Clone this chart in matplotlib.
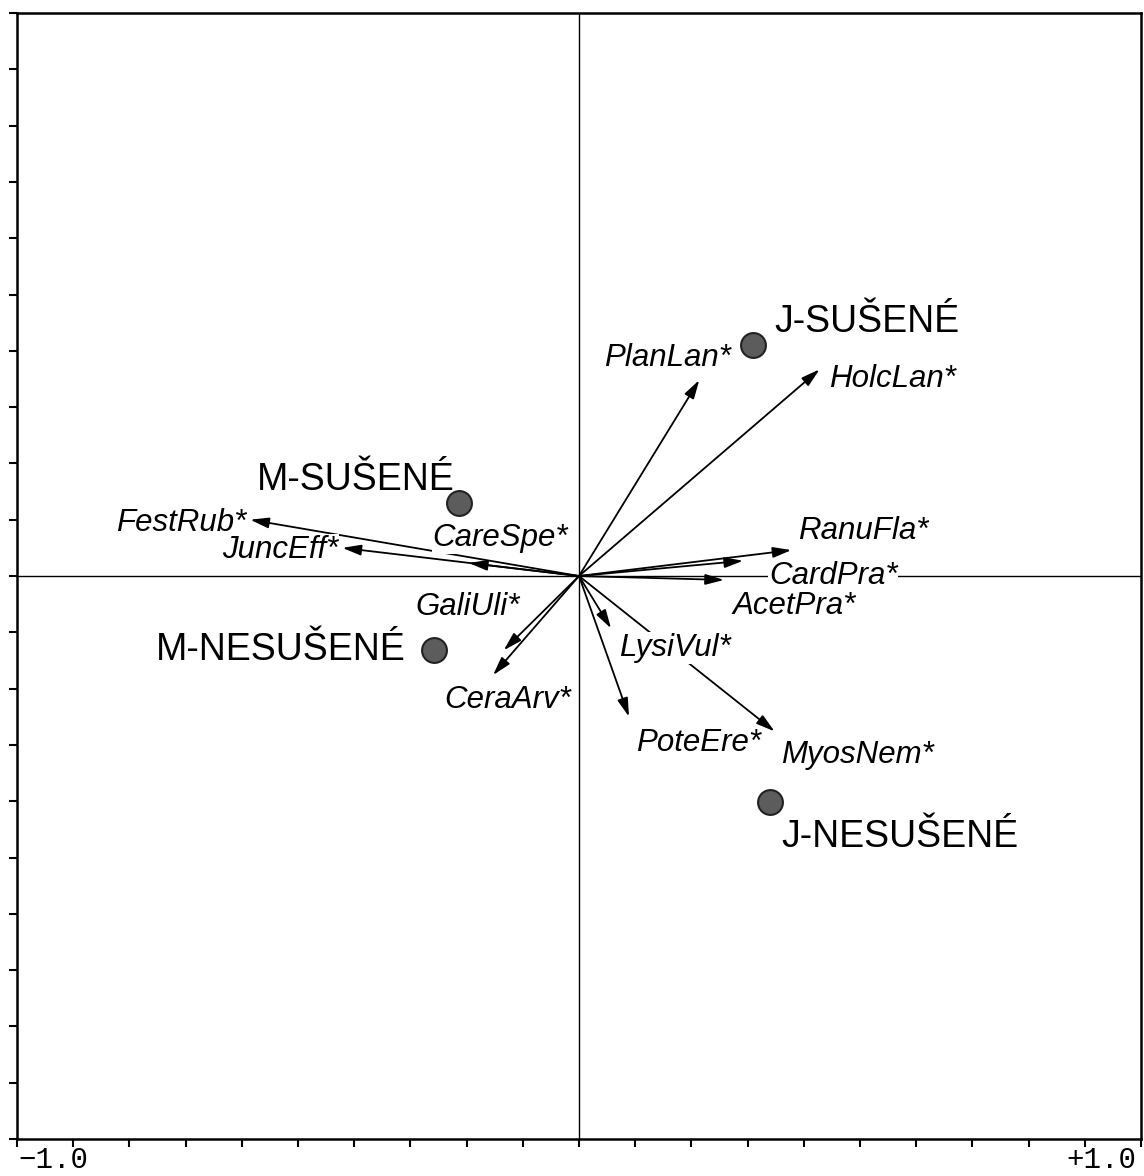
import matplotlib
matplotlib.use("Agg")
import matplotlib.pyplot as plt
import numpy as np

# species arrows (tip coordinates) and their label positions
species = ["PlanLan*", "HolcLan*", "RanuFla*", "CardPra*", "AcetPra*",
           "FestRub*", "JuncEff*", "CareSpe*", "GaliUli*", "CeraArv*",
           "LysiVul*", "PoteEre*", "MyosNem*"]
sp_x = [0.214, 0.428, 0.378, 0.292, 0.258,
        -0.585, -0.421, -0.196, -0.134, -0.153,
        0.057, 0.089, 0.348]
sp_y = [0.348, 0.367, 0.046, 0.027, -0.007,
        0.100, 0.050, 0.023, -0.132, -0.176,
        -0.093, -0.250, -0.276]
lab_x = [0.270, 0.445, 0.390, 0.338, 0.274,
         -0.592, -0.429, -0.020, -0.106, -0.015,
         0.071, 0.102, 0.360]
lab_y = [0.387, 0.350, 0.080, 0.000, -0.053,
         0.094, 0.046, 0.067, -0.055, -0.220,
         -0.128, -0.297, -0.318]
lab_ha = ["right", "left", "left", "left", "left",
          "right", "right", "right", "right", "right",
          "left", "left", "left"]

# sample groups
sites = ["J-SUŠENÉ", "M-SUŠENÉ", "M-NESUŠENÉ", "J-NESUŠENÉ"]
site_x = [0.310, -0.214, -0.258, 0.339]
site_y = [0.410, 0.130, -0.132, -0.401]
site_lx = [0.348, -0.222, -0.308, 0.360]
site_ly = [0.451, 0.170, -0.132, -0.463]
site_ha = ["left", "right", "right", "left"]

plt.rcParams["font.family"] = ["Liberation Sans", "DejaVu Sans"]

fig = plt.figure(figsize=(11.44, 11.76), dpi=100)
ax = fig.add_axes([17 / 1144, 37 / 1176, 1124 / 1144, 1126 / 1176])
ax.set_xlim(-1, 1)
ax.set_ylim(-1, 1)

for s in ax.spines.values():
    s.set_linewidth(1.8)

ax.axhline(0, color="black", lw=1.0, zorder=1)
ax.axvline(0, color="black", lw=1.0, zorder=1)

for x, y in zip(sp_x, sp_y):
    ax.annotate("", xy=(x, y), xytext=(0, 0), zorder=2,
                arrowprops=dict(arrowstyle="-|>,head_length=0.7,head_width=0.2",
                                color="black", lw=1.3, shrinkA=0, shrinkB=0,
                                mutation_scale=16))

for name, x, y, ha in zip(species, lab_x, lab_y, lab_ha):
    ax.text(x, y, name, ha=ha, va="center", fontsize=22.5, style="italic",
            zorder=4, bbox=dict(facecolor="white", edgecolor="none", pad=0.5))

ax.scatter(site_x, site_y, s=320, color="#5c5c5c", edgecolor="#222222",
           linewidth=1.5, zorder=5)
for name, x, y, ha in zip(sites, site_lx, site_ly, site_ha):
    ax.text(x, y, name, ha=ha, va="center", fontsize=27, zorder=5)

ticks = np.round(np.arange(-1, 1.0001, 0.1), 1)
ax.set_xticks(ticks)
ax.set_yticks(ticks)
ax.set_xticklabels([])
ax.set_yticklabels([])
ax.tick_params(direction="out", length=6, width=1.5, top=False, right=False)

# end labels of the x axis
ax.text(0.001, -0.026, "\u22121.0", transform=ax.transAxes, ha="left",
        va="baseline", fontsize=21, family="Liberation Mono")
ax.text(0.996, -0.026, "+1.0", transform=ax.transAxes, ha="right",
        va="baseline", fontsize=21, family="Liberation Mono")

fig.savefig("out.png", dpi=100)
